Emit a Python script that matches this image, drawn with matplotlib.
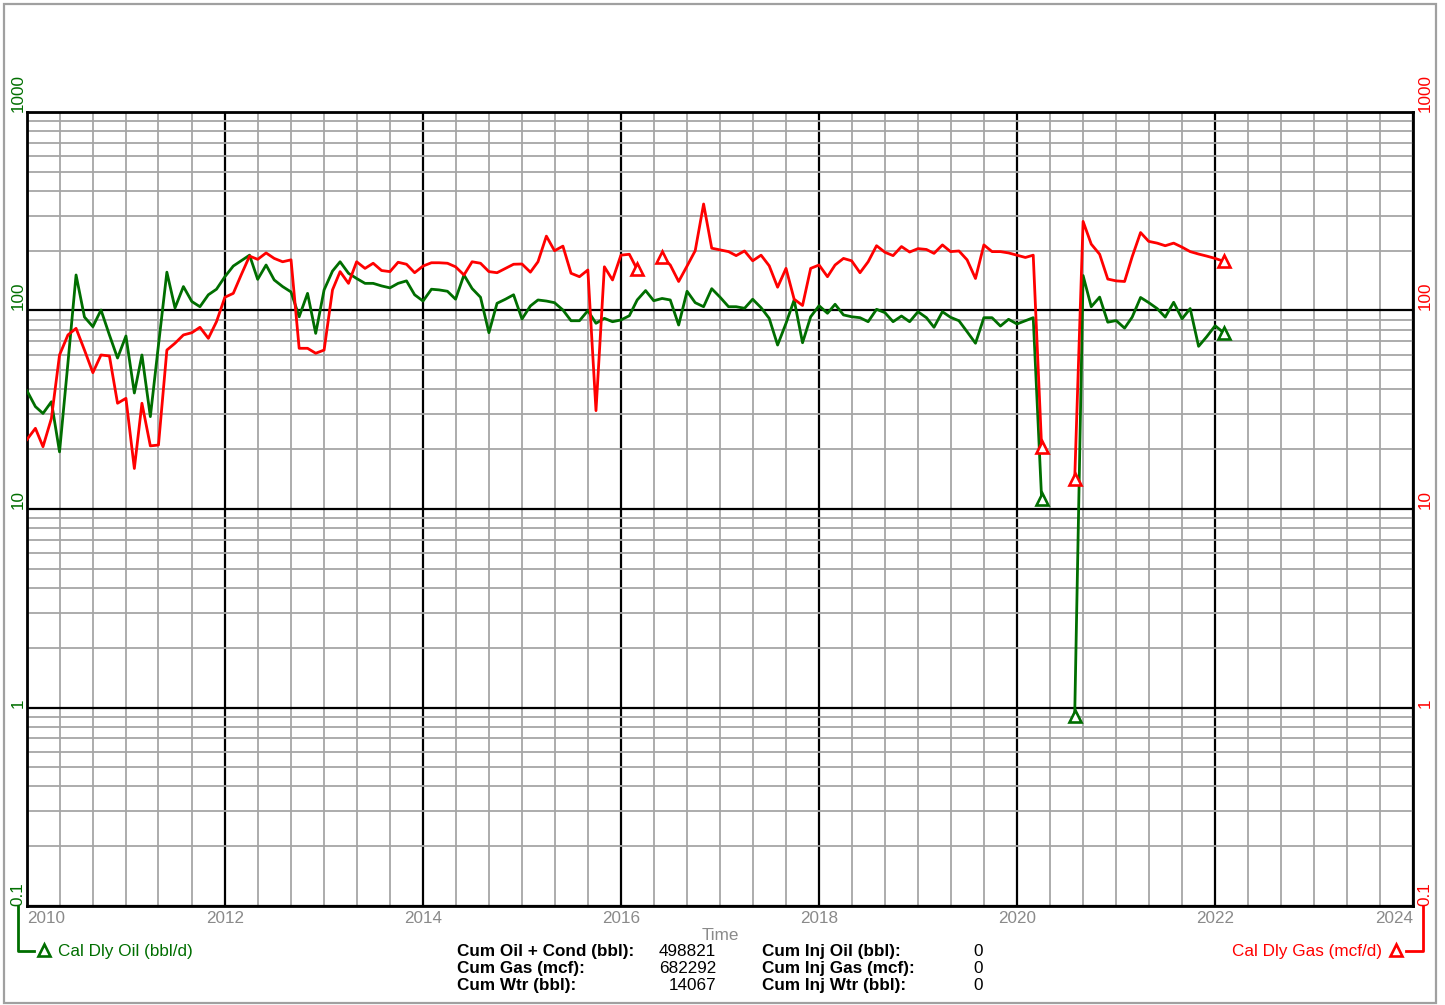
import numpy as np
import pandas as pd
import matplotlib
matplotlib.use("Agg")
import matplotlib.pyplot as plt
import matplotlib.dates as mdates
from matplotlib.ticker import LogLocator, NullFormatter, NullLocator
from matplotlib.lines import Line2D
from matplotlib.patches import Rectangle

plt.rcParams['font.family'] = ['Liberation Sans', 'DejaVu Sans']

nan = np.nan

# monthly calendar-day rates, starting Jan 2010
gas = [22.4, 25.5, 20.6, 28.6, 59.7, 75.3, 81.3, 63.2, 48.6, 59.7,
       59.0, 34.1, 36.1, 16.0, 34.1, 20.8, 21.0, 63.2, 68.4, 75.3,
       77.3, 82.3, 72.4, 87.8, 116.6, 122, 151, 188, 181, 195,
       183, 176, 180, 64.5, 64.5, 60.9, 63.2, 127, 157, 137,
       176, 163, 173, 159, 157, 175, 171, 155, 167.5, 174,
       174, 173, 166, 151, 176, 173, 157, 155, 163, 171,
       171.5, 156, 176, 237, 200, 211, 154, 148, 160, 31.3,
       166, 142.5, 190, 192, 161, nan, nan, 185, 169.5, 140,
       167.5, 200, 344, 206, 202, 198, 189, 199.5, 178, 190,
       168, 131, 163, 114, 106, 163, 169.5, 148, 169.5, 183,
       178, 155, 176, 212, 196.5, 189, 210, 197, 205, 203,
       194, 214, 198, 199.5, 180, 145, 214, 198, 198, 195,
       190, 185, 190, 20.5, nan, nan, nan, 14.1, 281, 216,
       192, 144, 141, 140, 186.5, 247, 223, 218.5, 212, 218.5,
       208.5, 198, 192.5, 188, 183, 177]

oil = [39.4, 32.8, 30.3, 34.7, 19.4, 54.4, 151, 92.7, 82.9, 100.6,
       75.3, 57.6, 74.4, 38.4, 59.7, 29.2, 67, 156, 103, 132,
       111, 104.5, 120, 128, 148, 167.5, 178, 190, 143.5, 169.5,
       142.5, 132, 124, 93, 122, 76.7, 127, 158, 176, 154,
       145, 137, 137, 133, 130, 137, 141, 120, 111.6, 128,
       127, 125, 114, 151, 129, 116.6, 77.3, 108.7, 114, 120,
       90.6, 105.4, 113, 111.6, 109.5, 100.6, 88.8, 88.8, 99.8, 86.2,
       91.3, 87.8, 89.6, 94.1, 113, 126, 112, 115, 113, 84.5,
       125, 109.5, 104.5, 128.8, 116.6, 104.5, 104.5, 102.6, 114, 103.3,
       91.3, 67, 86.2, 113, 68.8, 93, 105.7, 96.8, 107.5, 95,
       93, 92, 87.8, 101.4, 97.5, 87.8, 93.8, 87.8, 98.6, 92,
       82.3, 98.6, 92.4, 88.8, 78.2, 68.4, 92, 92, 83.5, 90.3,
       85.5, 88.8, 92, 11.2, nan, nan, nan, 0.91, 150, 104.5,
       116.8, 87.3, 89, 81.5, 92.6, 116.3, 109.6, 102.3, 92.6, 110,
       90.8, 102.3, 66, 73.8, 83.8, 77.4]

years = ['2010', '2012', '2014', '2016', '2018', '2020', '2022', '2024']
yticks = [0.1, 1, 10, 100, 1000]
ytick_labels = ['0.1', '1', '10', '100', '1000']

stat_names = ['Cum Oil + Cond (bbl):', 'Cum Gas (mcf):', 'Cum Wtr (bbl):']
stat_values = ['498821', '682292', '14067']
inj_names = ['Cum Inj Oil (bbl):', 'Cum Inj Gas (mcf):', 'Cum Inj Wtr (bbl):']
inj_values = ['0', '0', '0']

GREEN = '#006e00'
RED = '#ff0000'
GRAY = '#8a8a8a'
FS = 12.3

W, H = 1445, 1005
def fx(px):
    return px / W
def fy(py):
    return 1 - py / H

months = pd.date_range('2010-01-01', periods=len(gas), freq='MS')
gas = np.array(gas)
oil = np.array(oil)


def edge_points(v):
    # points next to a gap, plus the last one, get a hollow triangle
    ok = ~np.isnan(v)
    idx = []
    for i in range(1, len(v)):
        if not ok[i]:
            continue
        prev_gap = not ok[i - 1]
        next_gap = i == len(v) - 1 or not ok[i + 1]
        if prev_gap or next_gap:
            idx.append(i)
    return idx


fig = plt.figure(figsize=(W / 100, H / 100), dpi=100)
ax = fig.add_axes([fx(27), 1 - 906 / H, 1386 / W, 794 / H])

ax.set_yscale('log')
ax.set_ylim(0.1, 1000)
ax.set_xlim(pd.Timestamp('2010-01-01'), pd.Timestamp('2024-01-01'))

ax.set_xticks([pd.Timestamp(y + '-01-01') for y in years], years,
              color=GRAY, fontsize=FS)
xl = ax.get_xticklabels()
xl[0].set_ha('left')
xl[-1].set_ha('right')
ax.xaxis.set_minor_locator(mdates.MonthLocator(bymonth=[1, 5, 9]))
ax.tick_params(axis='x', which='both', length=0, pad=3.5)

ax.set_yticks(yticks, ytick_labels, rotation=90, va='bottom', ha='center',
              color=GREEN, fontsize=FS)
ax.yaxis.set_minor_locator(LogLocator(base=10, subs=np.arange(2, 10)))
ax.yaxis.set_minor_formatter(NullFormatter())
ax.tick_params(axis='y', which='both', length=0, pad=6.5)

ax.grid(which='major', color='black', lw=1.6)
ax.grid(which='minor', color='#a6a6a6', lw=1.3)
ax.set_axisbelow(True)
for s in ax.spines.values():
    s.set_linewidth(2)
    s.set_color('black')

ax2 = ax.twinx()
ax2.set_yscale('log')
ax2.set_ylim(0.1, 1000)
ax2.set_yticks(yticks, ytick_labels, rotation=90, va='bottom', ha='center',
               color=RED, fontsize=FS)
ax2.yaxis.set_minor_locator(NullLocator())
ax2.tick_params(axis='y', which='both', length=0, pad=8.6)
for s in ax2.spines.values():
    s.set_visible(False)

ax.plot(months, oil, color=GREEN, lw=2, zorder=3)
ax.plot(months, gas, color=RED, lw=2, zorder=4)
io = edge_points(oil)
ig = edge_points(gas)
ax.plot(months[io], oil[io], ls='none', marker='^', ms=9, mfc='white',
        mec=GREEN, mew=1.9, zorder=5)
ax.plot(months[ig], gas[ig], ls='none', marker='^', ms=9, mfc='white',
        mec=RED, mew=1.9, zorder=6)

fig.text(fx(720), fy(935), 'Time', color=GRAY, fontsize=FS,
         ha='center', va='center')

# series keys under the axes
fig.add_artist(Line2D([fx(18), fx(18), fx(34)], [fy(906), fy(951), fy(951)],
                      color=GREEN, lw=2))
fig.add_artist(Line2D([fx(44)], [fy(950)], marker='^', ms=9, mfc='white',
                      mec=GREEN, mew=1.9))
fig.text(fx(58), fy(951), 'Cal Dly Oil (bbl/d)', color=GREEN, fontsize=FS,
         ha='left', va='center')

fig.add_artist(Line2D([fx(1406), fx(1423), fx(1423)], [fy(951), fy(951), fy(906)],
                      color=RED, lw=2))
fig.add_artist(Line2D([fx(1396)], [fy(950)], marker='^', ms=9, mfc='white',
                      mec=RED, mew=1.9))
fig.text(fx(1382), fy(951), 'Cal Dly Gas (mcf/d)', color=RED, fontsize=FS,
         ha='right', va='center')

# cumulative totals
for k, yy in enumerate([951, 968, 985]):
    fig.text(fx(457), fy(yy), stat_names[k], fontsize=FS, weight='bold',
             ha='left', va='center')
    fig.text(fx(716), fy(yy), stat_values[k], fontsize=FS,
             ha='right', va='center')
    fig.text(fx(762), fy(yy), inj_names[k], fontsize=FS, weight='bold',
             ha='left', va='center')
    fig.text(fx(983), fy(yy), inj_values[k], fontsize=FS,
             ha='right', va='center')

fig.add_artist(Rectangle((fx(4), fy(1003)), fx(1432), 999 / H,
                         transform=fig.transFigure, fill=False,
                         edgecolor='#a0a0a0', lw=1.6))

fig.savefig('out.png', dpi=100)
